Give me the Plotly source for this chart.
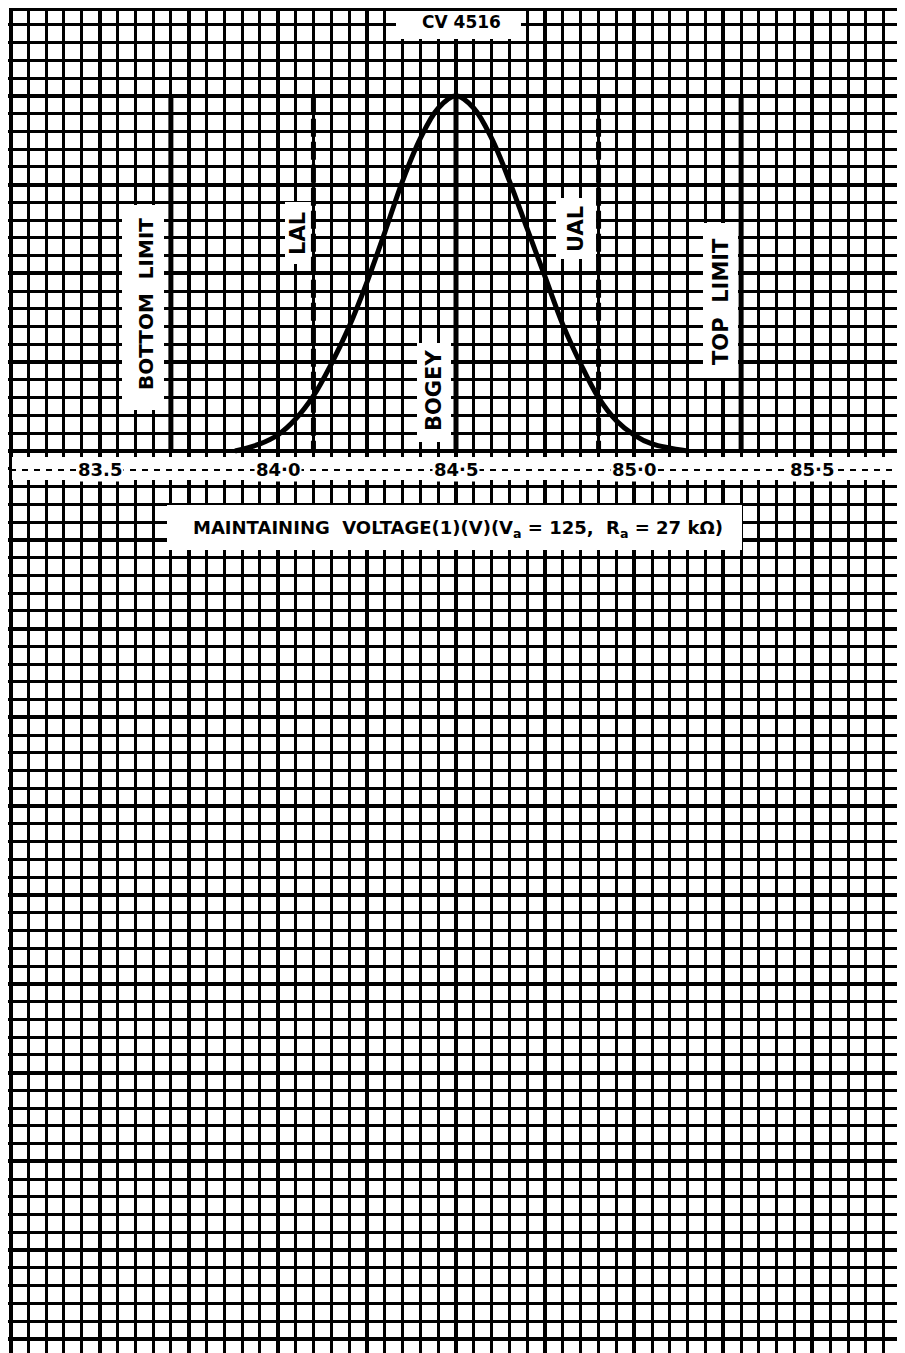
import plotly.graph_objects as go

# ---------------- data ----------------
title_text = "CV 4516"
axis_title = "MAINTAINING  VOLTAGE(1)(V)(V<sub>a</sub> = 125,  R<sub>a</sub> = 27 kΩ)"

# distribution curve (x in volts, y in grid squares above the axis)
curve_x = [83.88, 83.95, 84.00, 84.05, 84.10, 84.15, 84.20, 84.25, 84.30, 84.35, 84.40, 84.45,
           84.50, 84.55, 84.60, 84.65, 84.70, 84.75, 84.80, 84.85, 84.90, 84.95, 85.00, 85.05, 85.15]
curve_y = [0.0, 0.4, 0.9, 1.8, 3.1, 4.9, 7.0, 9.5, 12.3, 15.2, 17.6, 19.3,
           20.0, 19.3, 17.6, 15.2, 12.5, 9.8, 7.1, 4.9, 3.0, 1.7, 0.9, 0.4, 0.0]

# limit lines
limit_names = ["BOTTOM  LIMIT", "LAL", "BOGEY", "UAL", "TOP  LIMIT"]
limit_x = [83.70, 84.10, 84.50, 84.90, 85.30]
limit_dashed = [False, True, False, True, False]
limit_top = 20.0

# x tick labels
tick_vals = [83.5, 84.0, 84.5, 85.0, 85.5]
tick_text = ["83.5", "84·0", "84·5", "85·0", "85·5"]

# ---------------- page-pixel helpers (layout only) ----------------
# the page body has an 8 px margin, so the figure starts at page (8, 8)
OFF = 8
PX_X0, X0, VPX = 10.5, 83.25, 0.05 / 17.82     # x: page px 10.5 -> 83.25
PY_Y0, Y0, SPY = 7.0, 25.0, 1 / 17.76           # y: page px 7 -> 25 squares


def fx(px):
    return X0 + (px - PX_X0) * VPX


def fy(py):
    return Y0 - (py - PY_Y0) * SPY


PAGE_W, PAGE_H = 905, 1353
W, H = PAGE_W - OFF - 1, PAGE_H - OFF
x_range = [fx(OFF), fx(OFF + W)]
y_range = [fy(OFF + H), fy(OFF)]

fig = go.Figure()

# curve
fig.add_trace(go.Scatter(
    x=curve_x, y=curve_y, mode="lines",
    line=dict(color="black", width=5, shape="spline", smoothing=1.0),
    hoverinfo="skip", showlegend=False))

# limit lines
for xv, dashed in zip(limit_x, limit_dashed):
    fig.add_trace(go.Scatter(
        x=[xv, xv], y=[limit_top, 0], mode="lines",
        line=dict(color="black", width=5, dash="18px,5px" if dashed else "solid"),
        hoverinfo="skip", showlegend=False))

shapes = []
annotations = []


def white_box(px0, py0, px1, py1):
    shapes.append(dict(type="rect", xref="x", yref="y", layer="between",
                       x0=fx(px0), x1=fx(px1), y0=fy(py0), y1=fy(py1),
                       fillcolor="white", line=dict(width=0)))


FONT = "DejaVu Sans"

# title box
white_box(396, 9, 521, 39)
annotations.append(dict(x=fx(461), y=fy(22), xref="x", yref="y", text="<b>" + title_text + "</b>",
                        showarrow=False, font=dict(family=FONT, size=17, color="black")))

# vertical label boxes (page px) and label centres
label_boxes = [(122, 205, 164, 410), (285, 202, 312, 264), (417, 343, 451, 442),
               (556, 198, 596, 259), (703, 223, 738, 378)]
label_centres = [(146, 304), (298, 234), (434, 391), (576, 229), (721, 302)]
label_sizes = [20, 21, 21, 21, 21]
for name, box, (cx, cy), sz in zip(limit_names, label_boxes, label_centres, label_sizes):
    white_box(*box)
    annotations.append(dict(x=fx(cx), y=fy(cy), xref="x", yref="y", text="<b>" + name + "</b>",
                            textangle=-90, showarrow=False,
                            font=dict(family=FONT, size=sz, color="black")))

# tick label band
white_box(10, 457, 903, 480)
shapes.append(dict(type="line", xref="x", yref="y", layer="between",
                   x0=fx(10), x1=fx(903), y0=fy(470), y1=fy(470),
                   line=dict(color="black", width=2, dash="6px,6px")))
for tv, tt in zip(tick_vals, tick_text):
    annotations.append(dict(x=tv, y=fy(469), xref="x", yref="y", text="<b>" + tt + "</b>",
                            showarrow=False, bgcolor="white", borderpad=1,
                            font=dict(family=FONT, size=18, color="black")))

# axis title box
white_box(167, 505, 742, 550)
annotations.append(dict(x=fx(458), y=fy(529), xref="x", yref="y", text="<b>" + axis_title + "</b>",
                        showarrow=False, font=dict(family=FONT, size=18, color="black")))

# borders: left, right, top
XR = 85.75
shapes.append(dict(type="line", xref="x", yref="y", layer="between", x0=X0, x1=X0,
                   y0=y_range[0], y1=y_range[1], line=dict(color="black", width=3)))
shapes.append(dict(type="line", xref="x", yref="y", layer="between", x0=XR, x1=XR,
                   y0=y_range[0], y1=y_range[1], line=dict(color="black", width=3)))
shapes.append(dict(type="line", xref="x", yref="y", layer="between", x0=X0, x1=XR,
                   y0=fy(9.5), y1=fy(9.5), line=dict(color="black", width=3)))

fig.update_layout(
    width=W, height=H,
    margin=dict(l=0, r=0, t=0, b=0, pad=0),
    paper_bgcolor="white", plot_bgcolor="white",
    showlegend=False,
    shapes=shapes, annotations=annotations,
    xaxis=dict(range=x_range, tick0=83.25, dtick=0.25, showgrid=True,
               gridcolor="black", gridwidth=3.5, zeroline=False,
               showticklabels=False, ticks="", showline=False, fixedrange=True,
               minor=dict(tick0=83.25, dtick=0.05, showgrid=True,
                          gridcolor="black", gridwidth=2.5)),
    yaxis=dict(range=y_range, tick0=0, dtick=5, showgrid=True,
               gridcolor="black", gridwidth=3.5, zeroline=False,
               showticklabels=False, ticks="", showline=False, fixedrange=True,
               minor=dict(tick0=0, dtick=1, showgrid=True,
                          gridcolor="black", gridwidth=2.5)),
)

fig.write_html("out.html")
